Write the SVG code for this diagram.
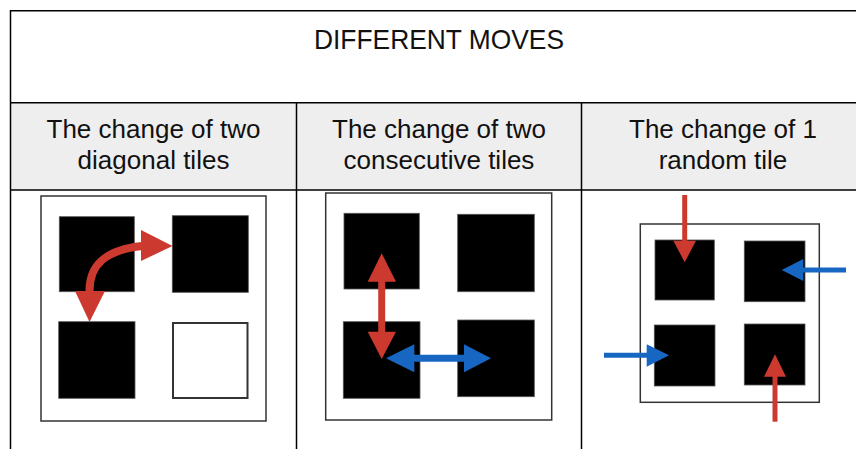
<svg xmlns="http://www.w3.org/2000/svg" width="856" height="449" viewBox="0 0 856 449">
  <style>
    .grid { stroke: #000; stroke-width: 1.5; fill: none; }
    .title { font-family: "Liberation Sans", Arial, sans-serif; font-size: 26px; fill: #111; text-anchor: middle; }
    .frame { fill: #fff; stroke: #333; stroke-width: 1.5; }
    .tile { fill: #000; stroke: #555; stroke-width: 0.8; }
    .empty { fill: #fff; stroke: #333; stroke-width: 2; }
    .red { fill: #cc3a2f; }
    .blue { fill: #1767c2; }
    .rs { stroke: #cc3a2f; fill: none; }
    .bs { stroke: #1767c2; fill: none; }
  </style>
  <rect width="856" height="449" fill="#fff"/>
  <g id="table">
    <rect x="10.5" y="102.7" width="860" height="87.3" fill="#eeeeee"/>
    <path class="grid" d="M10.5 449 V10.7 H870 M10.5 102.7 H870 M10.5 190 H870 M296.5 102.7 V449 M581.5 102.7 V449"/>
  </g>
  <g id="title">
    <text class="title" x="439" y="49" style="font-size:28px" textLength="250" lengthAdjust="spacingAndGlyphs">DIFFERENT MOVES</text>
  </g>
  <g id="header1">
    <text class="title" x="153.5" y="137.5">The change of two</text>
    <text class="title" x="153.5" y="168.5">diagonal tiles</text>
  </g>
  <g id="header2">
    <text class="title" x="439" y="137.5">The change of two</text>
    <text class="title" x="439" y="168.5">consecutive tiles</text>
  </g>
  <g id="header3">
    <text class="title" x="723" y="137.5">The change of 1</text>
    <text class="title" x="723" y="168.5">random tile</text>
  </g>

  <g id="panel1">
    <rect class="frame" x="41" y="196" width="225" height="225"/>
    <rect class="tile" x="59.3" y="216.7" width="75" height="75"/>
    <rect class="tile" x="172.3" y="215.7" width="76" height="76.6"/>
    <rect class="tile" x="58.7" y="321.7" width="76.3" height="76.6"/>
    <rect class="empty" x="173" y="323" width="74.5" height="75"/>
  </g>
  <g id="panel2">
    <rect class="frame" x="325.7" y="193" width="226" height="227"/>
    <rect class="tile" x="344" y="213.3" width="75.3" height="75.7"/>
    <rect class="tile" x="457.7" y="214.3" width="76.6" height="77.4"/>
    <rect class="tile" x="343.3" y="321.7" width="76.7" height="76.6"/>
    <rect class="tile" x="457.7" y="320" width="76.6" height="76.7"/>
  </g>
  <g id="panel3">
    <rect class="frame" x="640.3" y="224" width="179" height="178.3"/>
    <rect class="tile" x="655" y="240" width="59.3" height="60"/>
    <rect class="tile" x="744.3" y="241" width="60.7" height="60.7"/>
    <rect class="tile" x="654.3" y="325" width="60.7" height="61"/>
    <rect class="tile" x="744.3" y="324" width="60.7" height="61"/>
  </g>

  <g id="connectors">
    <path class="rs" stroke-width="8" d="M89.5 292 C89 265 105 250 142 246"/>
    <polygon class="red" points="75,291 105,291 89.5,322"/>
    <polygon class="red" points="141,230 141,261 172.5,246"/>
    <path class="rs" stroke-width="7" d="M381.7 281 V332"/>
    <polygon class="red" points="367.7,281.7 396,281.7 381.7,253.3"/>
    <polygon class="red" points="367.7,331.7 396,331.7 381.7,359"/>
    <path class="bs" stroke-width="7" d="M414 358.3 H465"/>
    <polygon class="blue" points="414.3,344.3 414.3,372.3 386,358.3"/>
    <polygon class="blue" points="464,344.3 464,372.3 491,358.3"/>
    <path class="rs" stroke-width="5" d="M684.7 195 V241"/>
    <polygon class="red" points="673.3,240.7 696,240.7 684.7,262.3"/>
    <path class="bs" stroke-width="5" d="M846 270 H803"/>
    <polygon class="blue" points="803.3,259 803.3,281 781.7,270"/>
    <path class="bs" stroke-width="5" d="M604 355.3 H647"/>
    <polygon class="blue" points="646.7,344.3 646.7,366.7 669,355.3"/>
    <path class="rs" stroke-width="5" d="M775 421.7 V376"/>
    <polygon class="red" points="764,376.7 786,376.7 775,354.3"/>
  </g>
</svg>
